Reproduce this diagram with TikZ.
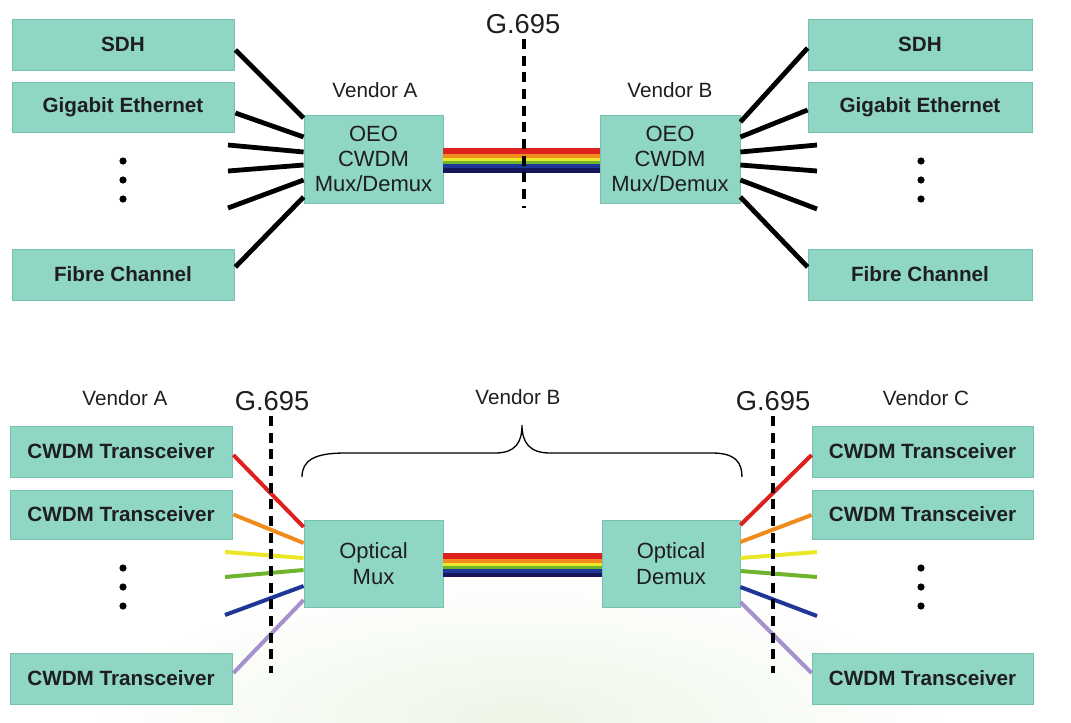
\documentclass[tikz,border=0pt]{standalone}
\usepackage{fontspec}
\setmainfont{Liberation Sans}
\usetikzlibrary{calc}
\definecolor{boxfill}{RGB}{144,214,196}
\definecolor{boxedge}{RGB}{118,194,174}
\definecolor{txt}{RGB}{30,30,30}
\definecolor{cred}{RGB}{222,32,30}
\definecolor{corange}{RGB}{240,140,30}
\definecolor{cyellow}{RGB}{236,230,40}
\definecolor{cgreen}{RGB}{110,180,45}
\definecolor{cblue}{RGB}{30,55,150}
\definecolor{cnavy}{RGB}{22,22,90}
\definecolor{clilac}{RGB}{165,145,205}
\definecolor{bgtint}{RGB}{236,245,230}
\begin{document}
\begin{tikzpicture}[x=0.75pt,y=-0.75pt,
  box/.style={draw=boxedge, fill=boxfill, line width=0.6pt, inner sep=0pt,
    align=center, text=txt, font=\fontsize{15.5}{19}\selectfont\bfseries},
  inbox/.style={box, font=\fontsize{16.5}{19}\selectfont},
  lbl/.style={inner sep=0pt, text=txt, font=\fontsize{15.5}{18}\selectfont},
  glbl/.style={inner sep=0pt, text=txt, font=\fontsize{20.5}{24}\selectfont},
  wire/.style={line width=3.6pt, black},
  fib/.style={line width=3pt},
  gline/.style={line width=2.6pt, black, dash pattern=on 7.5pt off 5pt},
  dotm/.style={fill=black}]
\useasboundingbox (0,0) rectangle (1071,722);
\shade[inner color=bgtint, outer color=white] (520,722) ellipse [x radius=330pt, y radius=110pt];

% ---------- top part ----------
\node[box, minimum width=166.5pt, minimum height=38.25pt] (sdhL) at (123,44.5) {SDH};
\node[box, minimum width=166.5pt, minimum height=37.5pt] (gbeL) at (123,107) {Gigabit Ethernet};
\node[box, minimum width=166.5pt, minimum height=38.25pt] (fcL) at (123,274.5) {Fibre Channel};
\node[box, minimum width=168pt, minimum height=38.25pt] (sdhR) at (920,44.5) {SDH};
\node[box, minimum width=168pt, minimum height=37.5pt] (gbeR) at (920,107) {Gigabit Ethernet};
\node[box, minimum width=168pt, minimum height=38.25pt] (fcR) at (920,274.5) {Fibre Channel};
\node[inbox, minimum width=104.25pt, minimum height=66pt] (oeoA) at (373.5,159) {OEO\\CWDM\\Mux/Demux};
\node[inbox, minimum width=105pt, minimum height=66pt] (oeoB) at (670,159) {OEO\\CWDM\\Mux/Demux};
\node[lbl] (vA) at (375,90) {Vendor A};
\node[lbl] (vB) at (670,90) {Vendor B};
\node[glbl] (g1) at (523,24) {G.695};

\foreach \yy in {161,180,199} {
  \fill[dotm] (123,\yy) circle [radius=2.7pt];
  \fill[dotm] (921,\yy) circle [radius=2.7pt];
}

\coordinate (tl3) at (228,145);
\coordinate (tl4) at (228,171);
\coordinate (tl5) at (228,208);
\coordinate (tr3) at (817,145);
\coordinate (tr4) at (817,171);
\coordinate (tr5) at (817,209);

\draw[wire] ($(sdhL.east)+(1,5.5)$) -- ($(oeoA.west)+(0,-41)$);
\draw[wire] ($(gbeL.east)+(1,6)$) -- ($(oeoA.west)+(0,-22)$);
\draw[wire] (tl3) -- ($(oeoA.west)+(0,-7)$);
\draw[wire] (tl4) -- ($(oeoA.west)+(0,6)$);
\draw[wire] (tl5) -- ($(oeoA.west)+(0,21)$);
\draw[wire] ($(fcL.east)+(1,-7.5)$) -- ($(oeoA.west)+(0,38)$);

\draw[wire] ($(oeoB.east)+(0,-37)$) -- ($(sdhR.west)+(0,3.5)$);
\draw[wire] ($(oeoB.east)+(0,-22)$) -- ($(gbeR.west)+(0,3)$);
\draw[wire] ($(oeoB.east)+(0,-7)$) -- (tr3);
\draw[wire] ($(oeoB.east)+(0,6)$) -- (tr4);
\draw[wire] ($(oeoB.east)+(0,21)$) -- (tr5);
\draw[wire] ($(oeoB.east)+(0,38)$) -- ($(fcR.west)+(0,-7.5)$);

\foreach \c/\ya/\yb in {cred/-11/-5, corange/-5/-1.5, cyellow/-1.5/2, cgreen/2/5, cblue/5/9, cnavy/9/14} {
  \fill[\c] ($(oeoA.east)+(0,\ya)$) rectangle ($(oeoB.west)+(0,\yb)$);
}
\coordinate (gd1) at (524,208);
\draw[gline] ($(g1.south)+(1,5)$) -- (gd1);

% ---------- bottom part ----------
\node[box, minimum width=166.5pt, minimum height=38.25pt] (cw1L) at (121,451.5) {CWDM Transceiver};
\node[box, minimum width=166.5pt, minimum height=36.75pt] (cw2L) at (121,514.5) {CWDM Transceiver};
\node[box, minimum width=166.5pt, minimum height=38.25pt] (cw3L) at (121,678.5) {CWDM Transceiver};
\node[box, minimum width=165.75pt, minimum height=38.25pt] (cw1R) at (922.5,451.5) {CWDM Transceiver};
\node[box, minimum width=165.75pt, minimum height=36.75pt] (cw2R) at (922.5,514.5) {CWDM Transceiver};
\node[box, minimum width=165.75pt, minimum height=38.25pt] (cw3R) at (922.5,678.5) {CWDM Transceiver};
\node[inbox, minimum width=104.25pt, minimum height=65.25pt] (mux) at (373.5,563.5) {Optical\\Mux};
\node[inbox, minimum width=103.5pt, minimum height=65.25pt] (demux) at (671,563.5) {Optical\\Demux};
\node[lbl] (bvA) at (125,398) {Vendor A};
\node[lbl] (bvB) at (518,397) {Vendor B};
\node[lbl] (bvC) at (926,398) {Vendor C};
\node[glbl] (g2) at (272,401) {G.695};
\node[glbl] (g3) at (773,401) {G.695};

\foreach \yy in {568,587,606} {
  \fill[dotm] (123,\yy) circle [radius=2.7pt];
  \fill[dotm] (921,\yy) circle [radius=2.7pt];
}

\draw[line width=1pt, black] (302,477) .. controls (302,460) and (315,453) .. (345,453) -- (495,453)
  .. controls (515,453) and (522,443) .. (522,425) .. controls (522,443) and (530,453) .. (550,453)
  -- (712,453) .. controls (735,453) and (742,462) .. (742,477);

\coordinate (bl3) at (225,552);
\coordinate (bl4) at (225,577);
\coordinate (bl5) at (225,615);
\coordinate (br3) at (817,552);
\coordinate (br4) at (817,577);
\coordinate (br5) at (817,616);

\draw[fib, cred] ($(cw1L.east)+(1,3.5)$) -- ($(mux.west)+(0,-36.5)$);
\draw[fib, corange] ($(cw2L.east)+(1,0)$) -- ($(mux.west)+(0,-20.5)$);
\draw[fib, cyellow] (bl3) -- ($(mux.west)+(0,-5.5)$);
\draw[fib, cgreen] (bl4) -- ($(mux.west)+(0,6.5)$);
\draw[fib, cblue] (bl5) -- ($(mux.west)+(0,22.5)$);
\draw[fib, clilac] ($(cw3L.east)+(1,-5.5)$) -- ($(mux.west)+(0,36.5)$);

\draw[fib, cred] ($(demux.east)+(0,-38.5)$) -- ($(cw1R.west)+(0,3.5)$);
\draw[fib, corange] ($(demux.east)+(0,-21.5)$) -- ($(cw2R.west)+(0,0.5)$);
\draw[fib, cyellow] ($(demux.east)+(0,-5.5)$) -- (br3);
\draw[fib, cgreen] ($(demux.east)+(0,7.5)$) -- (br4);
\draw[fib, cblue] ($(demux.east)+(0,23.5)$) -- (br5);
\draw[fib, clilac] ($(demux.east)+(0,38.5)$) -- ($(cw3R.west)+(0,-5.5)$);

\foreach \c/\ya/\yb in {cred/-10.5/-4.5, corange/-4.5/-1, cyellow/-1/2.5, cgreen/2.5/5.5, cblue/5.5/9, cnavy/9/13.5} {
  \fill[\c] ($(mux.east)+(0,\ya)$) rectangle ($(demux.west)+(0,\yb)$);
}

\coordinate (gd2) at (271,673);
\coordinate (gd3) at (773,673);
\draw[gline] ($(g2.south)+(-1,5)$) -- (gd2);
\draw[gline] ($(g3.south)+(0,5)$) -- (gd3);
\end{tikzpicture}
\end{document}
